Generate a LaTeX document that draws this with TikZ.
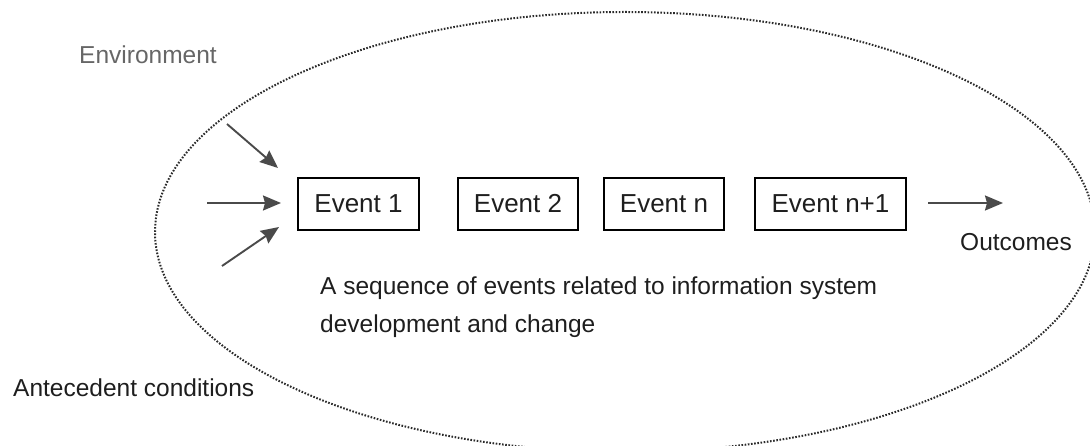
\documentclass[tikz,border=0pt]{standalone}
\usepackage{fontspec}
\setmainfont{Liberation Sans}
\usetikzlibrary{arrows.meta}
\definecolor{envgray}{HTML}{666666}
\definecolor{txt}{HTML}{1E1E1E}
\definecolor{arrowgray}{HTML}{4A4A4A}
\definecolor{dotgray}{HTML}{2A2A2A}
\tikzset{
  eventbox/.style={draw=black, line width=1.5pt, inner xsep=16pt, inner ysep=0pt,
    minimum height=52pt, font=\fontsize{26}{30}\selectfont, text=txt},
  textlabel/.style={inner sep=0pt, font=\fontsize{24.5}{30}\selectfont, text=txt},
  flow/.style={draw=arrowgray, line width=1.9pt,
    -{Stealth[length=18pt, width=15pt, inset=2pt]}},
  boundary/.style={draw=dotgray, line width=2pt, dash pattern=on 1.6pt off 1.6pt}
}
\begin{document}
\begin{tikzpicture}[x=1pt, y=-1pt]
  \useasboundingbox (0,0) rectangle (1090,446);
  \begin{scope}
    \clip (0,0) rectangle (1090,446);
    % boundary of the process
    \draw[boundary] (625,232) ellipse [x radius=470, y radius=220];
  \end{scope}

  % sequence of events
  \node[eventbox, minimum width=121pt] (e1)  at (358.5,204) {Event 1};
  \node[eventbox, minimum width=119pt] (e2)  at (518,204)   {Event 2};
  \node[eventbox, minimum width=120pt] (en)  at (664,204)   {Event n};
  \node[eventbox, minimum width=151pt] (en1) at (830.5,204) {Event n+1};

  % labels
  \node[textlabel, text=envgray, anchor=base west] (env) at (79,64) {Environment};
  \node[textlabel, anchor=base west] (ante) at (13,396) {Antecedent conditions};
  \node[textlabel, anchor=base west] (out) at (960,251) {Outcomes};
  \node[textlabel, anchor=base west] (seq1) at (320,295)
    {A sequence of events related to information system};
  \node[textlabel, anchor=base west] (seq2) at (320,333)
    {development and change};

  % inputs and outputs
  \coordinate (inA) at (227,124);
  \coordinate (inAend) at (278,168);
  \coordinate (inB) at (207,203);
  \coordinate (inBend) at (281,203);
  \coordinate (inC) at (222,266);
  \coordinate (inCend) at (279,227);
  \coordinate (outS) at (928,203);
  \coordinate (outE) at (1003,203);
  \draw[flow] (inA) -- (inAend);
  \draw[flow] (inB) -- (inBend);
  \draw[flow] (inC) -- (inCend);
  \draw[flow] (outS) -- (outE);
\end{tikzpicture}
\end{document}
